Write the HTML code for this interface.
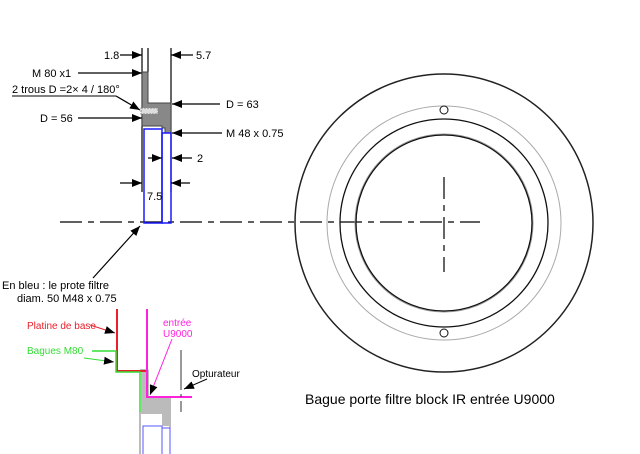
<!DOCTYPE html>
<html><head><meta charset="utf-8"><style>
html,body{margin:0;padding:0;background:#fff;}
svg{display:block;font-family:"Liberation Sans",sans-serif;}
</style></head><body>
<svg width="640" height="454" viewBox="0 0 640 454" xmlns="http://www.w3.org/2000/svg">
<defs>
<marker id="a" markerWidth="10" markerHeight="8" refX="10" refY="4" orient="auto" markerUnits="userSpaceOnUse"><path d="M0,0 L10,4 L0,8z" fill="#000"/></marker>
</defs>
<line x1="60" y1="222" x2="480" y2="222" stroke="#000" stroke-width="1.3" stroke-dasharray="22,6,6,6"/>
<line x1="142" y1="48" x2="142" y2="192" stroke="#000" stroke-width="1.2"/>
<line x1="148" y1="48" x2="148" y2="72" stroke="#000" stroke-width="1.2"/>
<line x1="171" y1="48" x2="171" y2="192" stroke="#000" stroke-width="1.2"/>
<path d="M142,72 H148 V103 H171 V133 H165 V128 H162 V126 H142 Z" fill="#888" stroke="#444" stroke-width="1"/>
<rect x="141" y="108" width="17" height="6" fill="#ddd" stroke="#888" stroke-dasharray="2,1"/>
<rect x="144" y="129" width="18" height="94" fill="none" stroke="#1a1aff" stroke-width="1.5"/>
<rect x="162" y="133" width="9" height="90" fill="none" stroke="#1a1aff" stroke-width="1.5"/>
<g stroke="#000" stroke-width="1.2" fill="none" marker-end="url(#a)">
<line x1="120" y1="55" x2="142" y2="55"/>
<line x1="193" y1="55" x2="171" y2="55"/>
<line x1="78" y1="73" x2="142" y2="73"/>
<line x1="220" y1="104" x2="172" y2="104"/>
<line x1="78" y1="118" x2="142" y2="118"/>
<line x1="222" y1="133" x2="172" y2="133"/>
<line x1="148" y1="158" x2="162" y2="158"/>
<line x1="192" y1="158" x2="172" y2="158"/>
<line x1="120" y1="183" x2="142" y2="183"/>
<line x1="190" y1="183" x2="171" y2="183"/>
<line x1="116" y1="96" x2="140" y2="110"/>
<line x1="93" y1="278" x2="140" y2="226"/>
</g>
<line x1="12" y1="96" x2="116" y2="96" stroke="#000" stroke-width="1"/>
<g font-size="11" fill="#000">
<text x="104" y="59">1.8</text>
<text x="196" y="59">5.7</text>
<text x="32" y="77">M 80 x1</text>
<text x="12" y="93">2 trous D =2× 4 / 180°</text>
<text x="226" y="108">D = 63</text>
<text x="40" y="122">D = 56</text>
<text x="226" y="137">M 48 x 0.75</text>
<text x="197" y="162">2</text>
<text x="147" y="200">7.5</text>
<text x="2" y="289">En bleu : le prote filtre</text>
<text x="17" y="302">diam. 50 M48 x 0.75</text>
</g>
<path d="M140,370 H148 V397 H170 V454 M140,370 V454" fill="none" stroke="#777"/>
<path d="M141,371 H147 V398 H169 V426 H162 V414 H141 Z" fill="#bbb"/>
<rect x="143" y="426" width="19" height="30" fill="none" stroke="#5555ff"/>
<rect x="162" y="428" width="8" height="28" fill="none" stroke="#5555ff"/>
<polyline points="117,309 117,371 147,371" fill="none" stroke="#e8202a" stroke-width="2"/>
<polyline points="147,309 147,397 192,397" fill="none" stroke="#ff22dd" stroke-width="2"/>
<polyline points="92,351 116,351 116,372 140,372 140,412" fill="none" stroke="#33dd33" stroke-width="1.5"/>
<line x1="181" y1="350" x2="181" y2="412" stroke="#333" stroke-dasharray="40,4,3,4"/>
<g stroke-width="1" marker-end="url(#a)">
<line x1="90" y1="325" x2="115" y2="333" stroke="#e8202a"/>
<line x1="84" y1="358" x2="114" y2="362" stroke="#33dd33"/>
<line x1="172" y1="339" x2="150" y2="395" stroke="#ff22dd"/>
<line x1="207" y1="379" x2="184" y2="389" stroke="#000"/>
</g>
<g font-size="10">
<text x="27" y="329" fill="#e8202a">Platine de base</text>
<text x="27" y="354" fill="#33dd33">Bagues M80</text>
<text x="163" y="326" fill="#ff22dd">entrée</text>
<text x="163" y="337" fill="#ff22dd">U9000</text>
<text x="192" y="377" fill="#000">Opturateur</text>
</g>
<g fill="none">
<circle cx="444" cy="223" r="149" stroke="#222" stroke-width="1.5"/>
<circle cx="444" cy="223" r="117" stroke="#aaa" stroke-width="1"/>
<circle cx="444" cy="223" r="104" stroke="#111" stroke-width="1.3"/>
<circle cx="444" cy="223" r="89" stroke="#999" stroke-width="1"/>
<circle cx="444" cy="223" r="88" stroke="#111" stroke-width="1.3"/>
<circle cx="444" cy="110" r="4" stroke="#111"/>
<circle cx="444" cy="333" r="4" stroke="#111"/>
</g>
<line x1="444" y1="177" x2="444" y2="272" stroke="#000" stroke-width="1.2" stroke-dasharray="22,6,6,6"/>
<text x="305" y="404" font-size="14" fill="#000">Bague porte filtre block IR entrée U9000</text>
</svg>
</body></html>
